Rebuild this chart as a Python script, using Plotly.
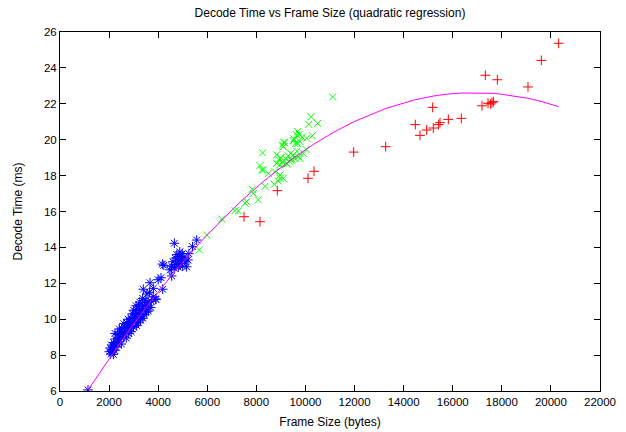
import numpy as np
import plotly.graph_objects as go

# ---- data ----
red_x = [20316, 19610, 19067, 17328, 17817, 17192, 17437, 17546, 17654, 17600,
         16350, 15821, 15183, 15481, 15427, 15209, 14939, 14475, 14666, 13269,
         11965, 10348, 10104, 8853, 7496, 8148]
red_y = [25.37, 24.42, 22.94, 23.59, 23.34, 21.89, 22.03, 21.99, 22.12, 22.06,
         21.19, 21.13, 21.80, 20.95, 20.84, 20.65, 20.54, 20.84, 20.24, 19.61,
         19.31, 18.24, 17.85, 17.16, 15.71, 15.43]

green_x = [11108, 10226, 10131, 10498, 9683, 9643, 10050, 10280, 9750, 9859,
           9533, 9126, 9058, 9506, 9574, 9778, 9668, 9139, 9098, 8257,
           8827, 8935, 9071, 8827, 9235, 9410, 9574, 9778, 9913, 10022,
           9397, 9506, 8148, 8216, 8284, 8487, 8759, 8963, 8963, 9099,
           8894, 8352, 8731, 7835, 7876, 8080, 7605, 7537, 7130, 7266,
           6586, 5976, 5677,
           9300, 9450, 9650, 9350, 9200, 9000, 9100, 8950, 9250, 9700]
green_y = [22.38, 21.28, 20.86, 20.91, 20.45, 20.26, 20.08, 20.22, 20.30, 20.13,
           20.04, 19.86, 19.69, 19.95, 19.78, 19.89, 19.80, 19.83, 19.61, 19.27,
           19.16, 18.87, 18.78, 18.68, 18.68, 18.87, 18.96, 18.96, 19.24, 19.46,
           19.24, 19.15, 18.56, 18.31, 18.31, 18.12, 18.22, 18.03, 17.85, 17.85,
           17.70, 17.40, 17.52, 17.24, 17.01, 16.65, 16.55, 16.46, 16.05, 16.03,
           15.58, 14.69, 13.86,
           19.10, 18.90, 19.35, 18.80, 18.95, 19.00, 18.70, 18.60, 18.65, 19.05]

blue_x = [1141, 2065, 2173, 2010, 2120, 2230, 2105, 2214, 2300, 2050,
          2180, 2330, 2420, 2500, 2260, 2380, 2480, 2600, 2700, 2241,
          2350, 2450, 2560, 2680, 2800, 2900, 2420, 2520, 2640, 2760,
          2880, 3000, 3120, 2600, 2720, 2840, 2960, 3080, 3200, 3280,
          2780, 2900, 3020, 3140, 3260, 3380, 2950, 3070, 3190, 3310,
          3430, 3520, 3000, 3120, 3240, 3360, 3480, 3600, 3100, 3220,
          3340, 3460, 3580, 3700, 3250, 3368, 3470, 3590, 3720, 3898,
          3800, 3395, 3540, 3650, 3802, 3667, 4184, 3911, 4115, 4000,
          4169, 4230, 4658, 4550, 4480, 4550, 4600, 4650, 4700, 4720,
          4760, 4800, 4820, 4850, 4880, 4900, 4950, 4980, 5000, 5050,
          5100, 5160, 5215, 5250, 5400, 5568]
blue_y = [6.06, 8.06, 8.04, 8.19, 8.30, 8.25, 8.56, 8.47, 8.45, 8.40,
          8.70, 8.65, 8.75, 8.62, 8.90, 8.95, 9.00, 9.05, 8.95, 9.21,
          9.15, 9.30, 9.25, 9.35, 9.20, 9.30, 9.45, 9.50, 9.55, 9.60,
          9.50, 9.55, 9.65, 9.75, 9.80, 9.85, 9.75, 9.90, 9.80, 9.95,
          10.00, 10.05, 10.10, 10.00, 10.15, 10.05, 10.30, 10.25, 10.35, 10.30,
          10.25, 10.40, 10.50, 10.55, 10.50, 10.60, 10.55, 10.45, 10.75, 10.80,
          10.70, 10.85, 10.75, 10.65, 10.95, 11.16, 11.05, 10.95, 11.00, 11.13,
          11.25, 11.67, 11.40, 11.50, 11.72, 12.03, 11.67, 11.10, 12.31, 12.20,
          13.07, 13.00, 14.23, 12.41, 12.75, 12.95, 13.20, 12.85, 13.40, 13.05,
          13.60, 13.25, 12.90, 13.50, 13.75, 13.10, 13.35, 13.65, 12.95, 13.45,
          13.20, 12.92, 13.30, 13.65, 14.04, 14.41]

# quadratic regression coefficients (y = a + b*x + c*x^2)
fit_coeffs = [3.576, 2.2538e-3, -6.668e-8]

x_ticks = [0, 2000, 4000, 6000, 8000, 10000, 12000, 14000, 16000, 18000, 20000, 22000]
y_ticks = [6, 8, 10, 12, 14, 16, 18, 20, 22, 24, 26]

# regression curve evaluated over the data's frame sizes
fit_x = np.sort(np.array(red_x + green_x + blue_x, dtype=float))
fit_y = fit_coeffs[0] + fit_coeffs[1] * fit_x + fit_coeffs[2] * fit_x ** 2

font = "Liberation Sans, Arial, sans-serif"

fig = go.Figure()
fig.add_trace(go.Scatter(x=red_x, y=red_y, mode="markers",
                         marker=dict(symbol="cross-thin-open", size=7, color="#ff0000",
                                     line=dict(color="#ff0000", width=1))))
fig.add_trace(go.Scatter(x=green_x, y=green_y, mode="markers",
                         marker=dict(symbol="x-thin-open", size=7, color="#00ff00",
                                     line=dict(color="#00ff00", width=1))))
fig.add_trace(go.Scatter(x=blue_x, y=blue_y, mode="markers",
                         marker=dict(symbol="asterisk-open", size=8, color="#0000ff",
                                     line=dict(color="#0000ff", width=1))))
fig.add_trace(go.Scatter(x=fit_x, y=fit_y, mode="lines",
                         line=dict(color="#ff00ff", width=1)))

axis_common = dict(showgrid=False, zeroline=False, showline=True,
                   linecolor="black", linewidth=1, mirror="ticks",
                   ticks="inside", ticklen=6, tickcolor="black", automargin=False,
                   tickfont=dict(family=font, size=11.5, color="black"))

fig.update_layout(
    width=626, height=432,
    margin=dict(l=60, r=26, t=32, b=41),
    paper_bgcolor="white", plot_bgcolor="white",
    showlegend=False,
    title=dict(text="Decode Time vs Frame Size (quadratic regression)",
               x=0.5, xref="paper", xanchor="center",
               y=0.97, yref="container", yanchor="middle",
               font=dict(family=font, size=12, color="black")),
    xaxis=dict(range=[0, 22000], tickvals=x_ticks,
               ticktext=[str(v) for v in x_ticks],
               title=dict(text="Frame Size (bytes)", standoff=10,
                          font=dict(family=font, size=12, color="black")),
               **axis_common),
    yaxis=dict(range=[6, 26], tickvals=y_ticks,
               ticktext=[str(v) for v in y_ticks],
               title=dict(text="Decode Time (ms)", standoff=18,
                          font=dict(family=font, size=12, color="black")),
               **axis_common),
)

fig.write_html("out.html", config={"displayModeBar": False},
               post_script="document.body.style.margin='0';document.body.style.overflow='hidden';")
